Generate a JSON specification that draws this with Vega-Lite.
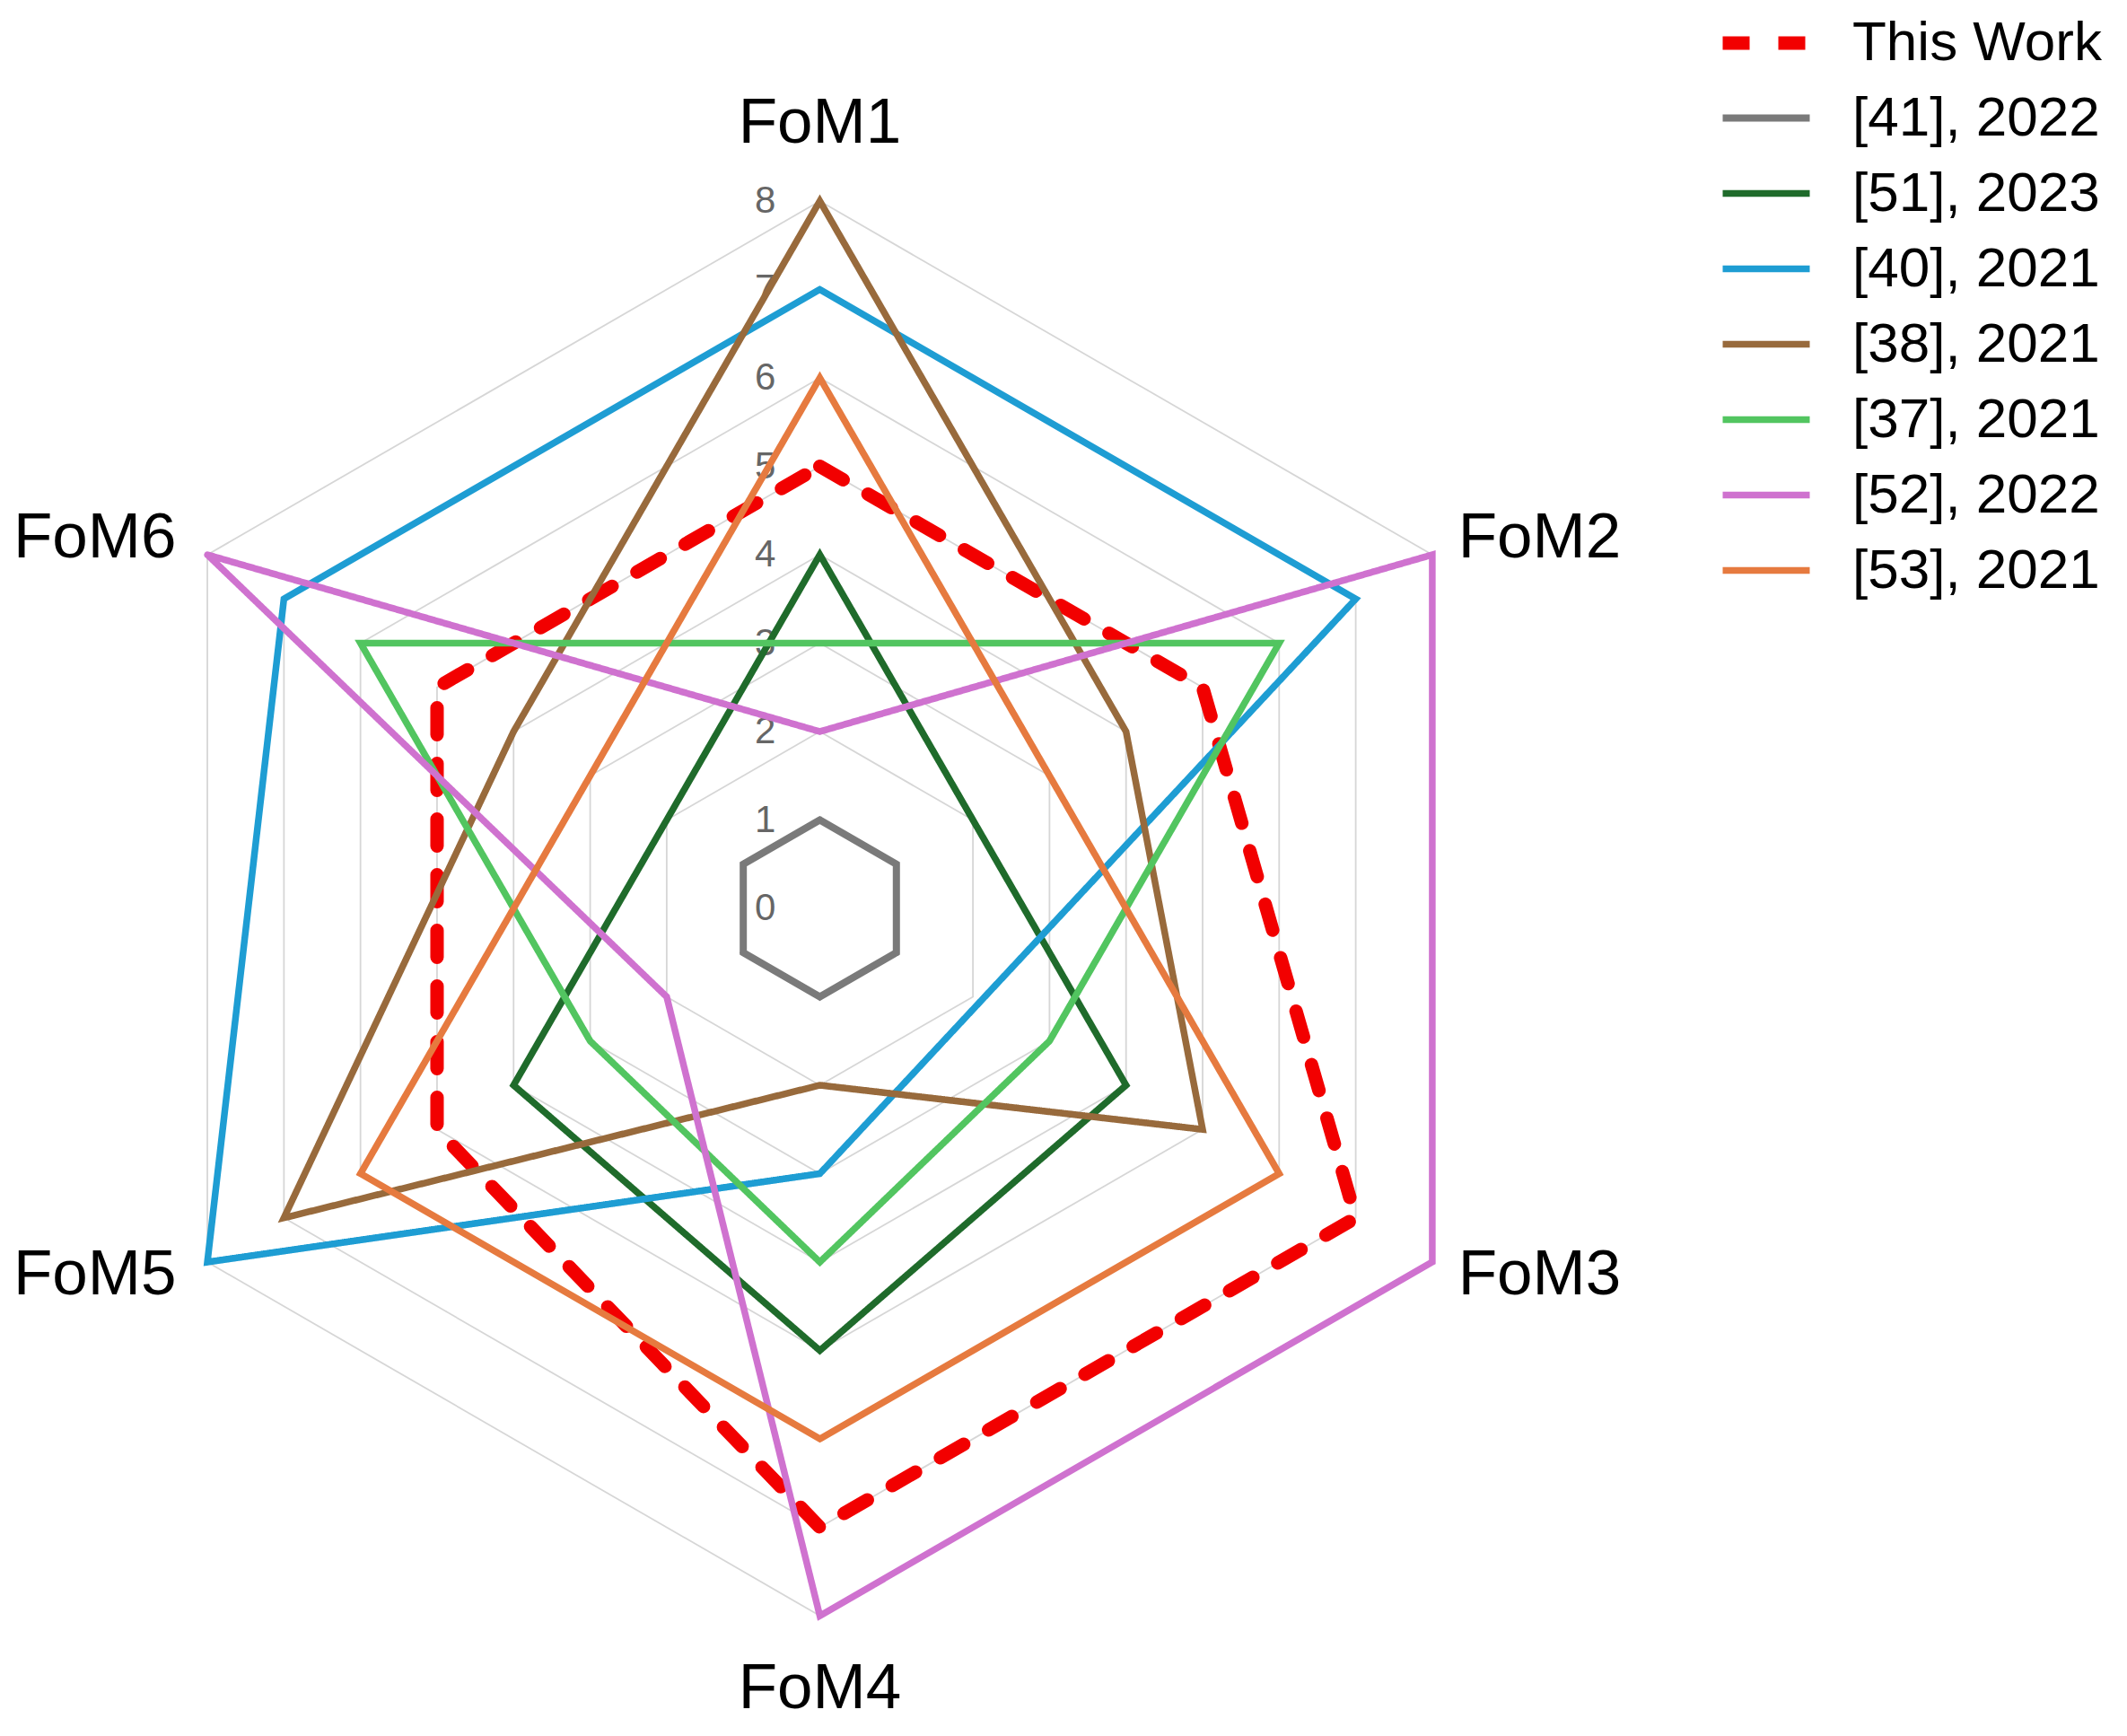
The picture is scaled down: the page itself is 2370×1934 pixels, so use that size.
{
  "$schema": "https://vega.github.io/schema/vega-lite/v6.json",
  "width": 2370,
  "height": 1934,
  "autosize": "none",
  "padding": 0,
  "background": "white",
  "config": {"view": {"stroke": null}, "font": "Liberation Sans"},
  "datasets": {
    "series": [
      {"series": "This Work", "metric": "FoM1", "value": 5},
      {"series": "This Work", "metric": "FoM2", "value": 5},
      {"series": "This Work", "metric": "FoM3", "value": 7},
      {"series": "This Work", "metric": "FoM4", "value": 7},
      {"series": "This Work", "metric": "FoM5", "value": 5},
      {"series": "This Work", "metric": "FoM6", "value": 5},
      {"series": "[41], 2022", "metric": "FoM1", "value": 1},
      {"series": "[41], 2022", "metric": "FoM2", "value": 1},
      {"series": "[41], 2022", "metric": "FoM3", "value": 1},
      {"series": "[41], 2022", "metric": "FoM4", "value": 1},
      {"series": "[41], 2022", "metric": "FoM5", "value": 1},
      {"series": "[41], 2022", "metric": "FoM6", "value": 1},
      {"series": "[51], 2023", "metric": "FoM1", "value": 4},
      {"series": "[51], 2023", "metric": "FoM2", "value": 2},
      {"series": "[51], 2023", "metric": "FoM3", "value": 4},
      {"series": "[51], 2023", "metric": "FoM4", "value": 5},
      {"series": "[51], 2023", "metric": "FoM5", "value": 4},
      {"series": "[51], 2023", "metric": "FoM6", "value": 2},
      {"series": "[40], 2021", "metric": "FoM1", "value": 7},
      {"series": "[40], 2021", "metric": "FoM2", "value": 7},
      {"series": "[40], 2021", "metric": "FoM3", "value": 2.1},
      {"series": "[40], 2021", "metric": "FoM4", "value": 3},
      {"series": "[40], 2021", "metric": "FoM5", "value": 8},
      {"series": "[40], 2021", "metric": "FoM6", "value": 7},
      {"series": "[38], 2021", "metric": "FoM1", "value": 8},
      {"series": "[38], 2021", "metric": "FoM2", "value": 4},
      {"series": "[38], 2021", "metric": "FoM3", "value": 5},
      {"series": "[38], 2021", "metric": "FoM4", "value": 2},
      {"series": "[38], 2021", "metric": "FoM5", "value": 7},
      {"series": "[38], 2021", "metric": "FoM6", "value": 4},
      {"series": "[37], 2021", "metric": "FoM1", "value": 3},
      {"series": "[37], 2021", "metric": "FoM2", "value": 6},
      {"series": "[37], 2021", "metric": "FoM3", "value": 3},
      {"series": "[37], 2021", "metric": "FoM4", "value": 4},
      {"series": "[37], 2021", "metric": "FoM5", "value": 3},
      {"series": "[37], 2021", "metric": "FoM6", "value": 6},
      {"series": "[52], 2022", "metric": "FoM1", "value": 2},
      {"series": "[52], 2022", "metric": "FoM2", "value": 8},
      {"series": "[52], 2022", "metric": "FoM3", "value": 8},
      {"series": "[52], 2022", "metric": "FoM4", "value": 8},
      {"series": "[52], 2022", "metric": "FoM5", "value": 2},
      {"series": "[52], 2022", "metric": "FoM6", "value": 8},
      {"series": "[53], 2021", "metric": "FoM1", "value": 6},
      {"series": "[53], 2021", "metric": "FoM2", "value": 3},
      {"series": "[53], 2021", "metric": "FoM3", "value": 6},
      {"series": "[53], 2021", "metric": "FoM4", "value": 6},
      {"series": "[53], 2021", "metric": "FoM5", "value": 6},
      {"series": "[53], 2021", "metric": "FoM6", "value": 3}
    ],
    "grid": [
      {"level": 1, "metric": ["FoM1", "FoM2", "FoM3", "FoM4", "FoM5", "FoM6"]},
      {"level": 2, "metric": ["FoM1", "FoM2", "FoM3", "FoM4", "FoM5", "FoM6"]},
      {"level": 3, "metric": ["FoM1", "FoM2", "FoM3", "FoM4", "FoM5", "FoM6"]},
      {"level": 4, "metric": ["FoM1", "FoM2", "FoM3", "FoM4", "FoM5", "FoM6"]},
      {"level": 5, "metric": ["FoM1", "FoM2", "FoM3", "FoM4", "FoM5", "FoM6"]},
      {"level": 6, "metric": ["FoM1", "FoM2", "FoM3", "FoM4", "FoM5", "FoM6"]},
      {"level": 7, "metric": ["FoM1", "FoM2", "FoM3", "FoM4", "FoM5", "FoM6"]},
      {"level": 8, "metric": ["FoM1", "FoM2", "FoM3", "FoM4", "FoM5", "FoM6"]}
    ],
    "ticks": [
      {"tick": 0}, {"tick": 1}, {"tick": 2}, {"tick": 3}, {"tick": 4},
      {"tick": 5}, {"tick": 6}, {"tick": 7}, {"tick": 8}
    ],
    "metrics": [
      {"metric": "FoM1"}, {"metric": "FoM2"}, {"metric": "FoM3"},
      {"metric": "FoM4"}, {"metric": "FoM5"}, {"metric": "FoM6"}
    ]
  },
  "layer": [
    {
      "data": {"name": "grid"},
      "transform": [
        {"flatten": ["metric"]},
        {"calculate": "parseInt(substring(datum.metric, 3)) - 1", "as": "k"},
        {"calculate": "PI/2 - datum.k*PI/3", "as": "ang"},
        {"calculate": "datum.level*cos(datum.ang)", "as": "px"},
        {"calculate": "datum.level*sin(datum.ang)", "as": "py"}
      ],
      "mark": {"type": "line", "interpolate": "linear-closed", "stroke": "#d6d6d6", "strokeWidth": 1.8},
      "encoding": {
        "x": {"field": "px", "type": "quantitative", "axis": null, "scale": {"domain": [-9.274, 14.787], "nice": false, "zero": false}},
        "y": {"field": "py", "type": "quantitative", "axis": null, "scale": {"domain": [-9.36, 10.274], "nice": false, "zero": false}},
        "detail": {"field": "level", "type": "nominal"},
        "order": {"field": "k", "type": "quantitative"}
      }
    },
    {
      "data": {"name": "ticks"},
      "transform": [
        {"calculate": "-0.5", "as": "px"},
        {"calculate": "datum.tick", "as": "py"}
      ],
      "mark": {"type": "text", "align": "right", "baseline": "middle", "fontSize": 42, "color": "#666666", "font": "Liberation Sans"},
      "encoding": {
        "x": {"field": "px", "type": "quantitative", "axis": null, "scale": {"domain": [-9.274, 14.787], "nice": false, "zero": false}},
        "y": {"field": "py", "type": "quantitative", "axis": null, "scale": {"domain": [-9.36, 10.274], "nice": false, "zero": false}},
        "text": {"field": "tick", "type": "nominal"}
      }
    },
    {
      "data": {"name": "series"},
      "transform": [
        {"calculate": "parseInt(substring(datum.metric, 3)) - 1", "as": "k"},
        {"calculate": "PI/2 - datum.k*PI/3", "as": "ang"},
        {"calculate": "datum.value*cos(datum.ang)", "as": "px"},
        {"calculate": "datum.value*sin(datum.ang)", "as": "py"}
      ],
      "mark": {"type": "line", "interpolate": "linear-closed", "strokeCap": "round", "strokeJoin": "miter"},
      "encoding": {
        "x": {"field": "px", "type": "quantitative", "axis": null, "scale": {"domain": [-9.274, 14.787], "nice": false, "zero": false}},
        "y": {"field": "py", "type": "quantitative", "axis": null, "scale": {"domain": [-9.36, 10.274], "nice": false, "zero": false}},
        "order": {"field": "k", "type": "quantitative"},
        "color": {
          "field": "series", "type": "nominal",
          "scale": {
            "domain": ["This Work", "[41], 2022", "[51], 2023", "[40], 2021", "[38], 2021", "[37], 2021", "[52], 2022", "[53], 2021"],
            "range": ["#f20000", "#7a7a7a", "#1f6b2b", "#1e9dd3", "#986a3c", "#52c560", "#cf72cf", "#e67a3f"]
          },
          "legend": {
            "title": null, "orient": "none", "legendX": 1912, "legendY": -8, "padding": 0,
            "labelFontSize": 62, "labelFont": "Liberation Sans", "labelColor": "black", "labelLimit": 2000,
            "symbolType": "stroke", "symbolSize": 9409, "labelOffset": 40, "rowPadding": 0
          }
        },
        "strokeDash": {
          "field": "series", "type": "nominal",
          "scale": {
            "domain": ["This Work", "[41], 2022", "[51], 2023", "[40], 2021", "[38], 2021", "[37], 2021", "[52], 2022", "[53], 2021"],
            "range": [[30, 32], [1, 0], [1, 0], [1, 0], [1, 0], [1, 0], [1, 0], [1, 0]]
          },
          "legend": {
            "title": null, "orient": "none", "legendX": 1912, "legendY": -8, "padding": 0,
            "labelFontSize": 62, "labelFont": "Liberation Sans", "labelColor": "black", "labelLimit": 2000,
            "symbolType": "stroke", "symbolSize": 9409, "labelOffset": 40, "rowPadding": 0
          }
        },
        "strokeWidth": {
          "field": "series", "type": "nominal",
          "scale": {
            "type": "ordinal",
            "domain": ["This Work", "[41], 2022", "[51], 2023", "[40], 2021", "[38], 2021", "[37], 2021", "[52], 2022", "[53], 2021"],
            "range": [15, 8, 7.5, 7.5, 7.5, 7.5, 7.5, 7.5]
          },
          "legend": {
            "title": null, "orient": "none", "legendX": 1912, "legendY": -8, "padding": 0,
            "labelFontSize": 62, "labelFont": "Liberation Sans", "labelColor": "black", "labelLimit": 2000,
            "symbolType": "stroke", "symbolSize": 9409, "labelOffset": 40, "rowPadding": 0
          }
        }
      }
    },
    {
      "data": {"name": "metrics"},
      "transform": [
        {"filter": "datum.metric == 'FoM1' || datum.metric == 'FoM4'"},
        {"calculate": "0", "as": "px"},
        {"calculate": "datum.metric == 'FoM1' ? 8.87 : -8.83", "as": "py"}
      ],
      "mark": {"type": "text", "align": "center", "baseline": "middle", "fontSize": 71, "color": "black", "font": "Liberation Sans"},
      "encoding": {
        "x": {"field": "px", "type": "quantitative", "axis": null, "scale": {"domain": [-9.274, 14.787], "nice": false, "zero": false}},
        "y": {"field": "py", "type": "quantitative", "axis": null, "scale": {"domain": [-9.36, 10.274], "nice": false, "zero": false}},
        "text": {"field": "metric", "type": "nominal"}
      }
    },
    {
      "data": {"name": "metrics"},
      "transform": [
        {"filter": "datum.metric == 'FoM2' || datum.metric == 'FoM3'"},
        {"calculate": "7.22", "as": "px"},
        {"calculate": "datum.metric == 'FoM2' ? 4.18 : -4.15", "as": "py"}
      ],
      "mark": {"type": "text", "align": "left", "baseline": "middle", "fontSize": 71, "color": "black", "font": "Liberation Sans"},
      "encoding": {
        "x": {"field": "px", "type": "quantitative", "axis": null, "scale": {"domain": [-9.274, 14.787], "nice": false, "zero": false}},
        "y": {"field": "py", "type": "quantitative", "axis": null, "scale": {"domain": [-9.36, 10.274], "nice": false, "zero": false}},
        "text": {"field": "metric", "type": "nominal"}
      }
    },
    {
      "data": {"name": "metrics"},
      "transform": [
        {"filter": "datum.metric == 'FoM5' || datum.metric == 'FoM6'"},
        {"calculate": "-7.28", "as": "px"},
        {"calculate": "datum.metric == 'FoM6' ? 4.18 : -4.15", "as": "py"}
      ],
      "mark": {"type": "text", "align": "right", "baseline": "middle", "fontSize": 71, "color": "black", "font": "Liberation Sans"},
      "encoding": {
        "x": {"field": "px", "type": "quantitative", "axis": null, "scale": {"domain": [-9.274, 14.787], "nice": false, "zero": false}},
        "y": {"field": "py", "type": "quantitative", "axis": null, "scale": {"domain": [-9.36, 10.274], "nice": false, "zero": false}},
        "text": {"field": "metric", "type": "nominal"}
      }
    }
  ]
}
